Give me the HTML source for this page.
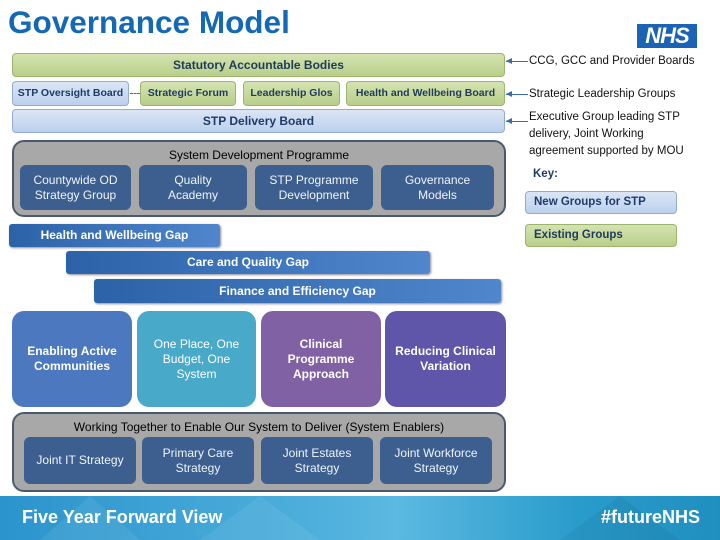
<!DOCTYPE html>
<html><head><meta charset="utf-8"><style>
body{margin:0;width:720px;height:540px;position:relative;overflow:hidden;background:#fff;font-family:"Liberation Sans",sans-serif}
.a{position:absolute;box-sizing:border-box;display:flex;align-items:center;justify-content:center;text-align:center;line-height:1.25}
.g{background:linear-gradient(#d4e3b1,#b9cf8a);border:1px solid #9bb56d;color:#1f3b5a;font-weight:bold;font-size:11px;border-radius:4px}
.lb{background:linear-gradient(#dbe6f5,#bcd0ec);border:1px solid #93acd0;color:#1f3b6a;font-weight:bold;font-size:11px;border-radius:4px}
.gr{background:#a8a8a8;border:2px solid #4a5a6e;border-radius:12px}
.db{background:#3c5f8f;color:#f0f4fa;font-size:12px;border-radius:6px}
.gap{background:linear-gradient(90deg,#2c62a8,#4f86cc);color:#fff;font-weight:bold;font-size:12px;border-radius:3px;box-shadow:1px 1px 2px #889}
.big{color:#fff;font-weight:bold;font-size:12px;border-radius:12px}
.t{position:absolute;font-size:11.5px;color:#111;line-height:17px}
.arr{position:absolute;height:1px;background:#3d6c9e;width:22px;left:506px}
.arr:before{content:"";position:absolute;left:0;top:-3px;border:3.5px solid transparent;border-right:6px solid #3d6c9e;border-left:0}
</style></head><body>
<div style="position:absolute;left:8px;top:4px;font-size:31.5px;font-weight:bold;color:#1469b4">Governance Model</div>
<div class="a" style="left:637px;top:24px;width:60px;height:24px;background:#1a63b5;color:#fff;font-weight:bold;font-style:italic;font-size:22px;letter-spacing:-1px">NHS</div>

<div class="a g" style="left:12px;top:53px;width:493px;height:24px;font-size:12px">Statutory Accountable Bodies</div>
<div class="a lb" style="left:12px;top:81px;width:117px;height:25px;font-size:10.5px">STP Oversight Board</div>
<div style="position:absolute;left:130px;top:93px;width:10px;border-top:1px dashed #666"></div>
<div class="a g" style="left:140px;top:81px;width:96px;height:25px;font-size:10.5px">Strategic Forum</div>
<div class="a g" style="left:243px;top:81px;width:97px;height:25px;font-size:10.5px">Leadership Glos</div>
<div class="a g" style="left:346px;top:81px;width:159px;height:25px;font-size:10.5px">Health and Wellbeing Board</div>
<div class="a lb" style="left:12px;top:109px;width:493px;height:24px;font-size:12px">STP Delivery Board</div>

<div class="a gr" style="left:12px;top:140px;width:494px;height:77px;align-items:flex-start;padding-top:6px;font-size:12px;color:#000">System Development Programme</div>
<div class="a db" style="left:20px;top:165px;width:111px;height:45px">Countywide OD<br>Strategy Group</div>
<div class="a db" style="left:139px;top:165px;width:108px;height:45px">Quality<br>Academy</div>
<div class="a db" style="left:255px;top:165px;width:118px;height:45px">STP Programme<br>Development</div>
<div class="a db" style="left:381px;top:165px;width:113px;height:45px">Governance<br>Models</div>

<div class="a gap" style="left:9px;top:224px;width:211px;height:23px">Health and Wellbeing Gap</div>
<div class="a gap" style="left:66px;top:251px;width:364px;height:23px">Care and Quality Gap</div>
<div class="a gap" style="left:94px;top:279px;width:407px;height:24px">Finance and Efficiency Gap</div>

<div class="a big" style="left:12px;top:311px;width:120px;height:96px;background:#4c78bf">Enabling Active<br>Communities</div>
<div class="a big" style="left:137px;top:311px;width:119px;height:96px;background:#49a9c8;font-weight:normal">One Place, One<br>Budget, One<br>System</div>
<div class="a big" style="left:261px;top:311px;width:120px;height:96px;background:#7f61a4">Clinical<br>Programme<br>Approach</div>
<div class="a big" style="left:385px;top:311px;width:121px;height:96px;background:#5f56aa">Reducing Clinical<br>Variation</div>

<div class="a gr" style="left:12px;top:412px;width:494px;height:80px;align-items:flex-start;padding-top:6px;font-size:12px;color:#000">Working Together to Enable Our System to Deliver (System Enablers)</div>
<div class="a db" style="left:24px;top:437px;width:112px;height:47px">Joint IT Strategy</div>
<div class="a db" style="left:142px;top:437px;width:112px;height:47px">Primary Care<br>Strategy</div>
<div class="a db" style="left:261px;top:437px;width:112px;height:47px">Joint Estates<br>Strategy</div>
<div class="a db" style="left:380px;top:437px;width:112px;height:47px">Joint Workforce<br>Strategy</div>

<div class="arr" style="top:61px"></div>
<div class="arr" style="top:94px"></div>
<div class="arr" style="top:121px"></div>
<div class="t" style="left:529px;top:53px">CCG, GCC and Provider Boards</div>
<div class="t" style="left:529px;top:86px">Strategic Leadership Groups</div>
<div class="t" style="left:529px;top:109px">Executive Group leading STP<br>delivery, Joint Working<br>agreement supported by MOU</div>
<div class="t" style="left:533px;top:166px;font-weight:bold;color:#1f3b6a">Key:</div>
<div class="a lb" style="left:525px;top:191px;width:152px;height:23px;justify-content:flex-start;padding-left:8px;font-size:11.5px">New Groups for STP</div>
<div class="a g" style="left:525px;top:224px;width:152px;height:23px;justify-content:flex-start;padding-left:8px;font-size:11.5px">Existing Groups</div>

<div style="position:absolute;left:0;top:496px;width:720px;height:44px;background:linear-gradient(90deg,#2b94cc,#4fb0dc 45%,#5cb9e0 55%,#2a9ccc 80%,#1f8fbf)"></div>
<svg style="position:absolute;left:0;top:496px" width="720" height="44"><polygon points="40,44 90,0 140,44" fill="#fff" opacity=".07"/><polygon points="200,44 260,0 320,44" fill="#fff" opacity=".07"/><polygon points="560,44 620,0 680,44" fill="#000" opacity=".05"/></svg>
<div style="position:absolute;left:22px;top:507px;color:#fff;font-weight:bold;font-size:18px">Five Year Forward View</div>
<div style="position:absolute;right:20px;top:507px;color:#fff;font-weight:bold;font-size:18px">#futureNHS</div>
</body></html>
